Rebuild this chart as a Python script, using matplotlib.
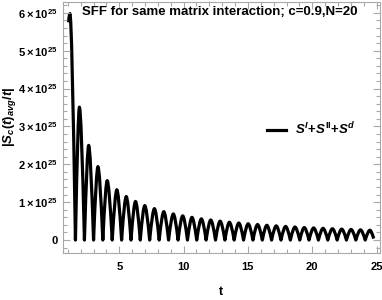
import matplotlib
matplotlib.use('Agg')
import matplotlib.pyplot as plt
from matplotlib.path import Path
from matplotlib.patches import PathPatch
from matplotlib.lines import Line2D
from matplotlib.ticker import MultipleLocator, FuncFormatter

plt.rcParams['font.family'] = ['Liberation Sans', 'DejaVu Sans']
plt.rcParams['mathtext.fontset'] = 'custom'
plt.rcParams['mathtext.rm'] = 'Liberation Sans:bold'
plt.rcParams['mathtext.it'] = 'Liberation Sans:italic:bold'
plt.rcParams['mathtext.bf'] = 'Liberation Sans:bold'

# ---- data (values in units of 1e25) ----
SCALE = 1e25
start_t, start_v = 1.05, 5.75
peak_t = [1.16, 1.90, 2.62, 3.34, 4.06, 4.81, 5.54, 6.26, 6.98, 7.73, 8.46,
          9.20, 9.93, 10.65, 11.38, 12.11, 12.84, 13.56, 14.29, 15.02, 15.75,
          16.47, 17.20, 17.93, 18.66, 19.38, 20.11, 20.84, 21.57, 22.29,
          23.02, 23.75, 24.48]
peak_v = [5.98, 3.51, 2.50, 1.94, 1.57, 1.33, 1.15, 1.02, 0.91, 0.83, 0.75,
          0.69, 0.64, 0.60, 0.56, 0.53, 0.50, 0.47, 0.45, 0.43, 0.41,
          0.39, 0.375, 0.36, 0.345, 0.33, 0.32, 0.31, 0.30, 0.29,
          0.28, 0.27, 0.26]
trough_t = [1.59, 2.29, 3.00, 3.72, 4.45, 5.18, 5.91, 6.63, 7.36, 8.10, 8.83,
            9.57, 10.30, 11.02, 11.75, 12.48, 13.21, 13.93, 14.66, 15.39,
            16.12, 16.84, 17.57, 18.30, 19.03, 19.75, 20.48, 21.21, 21.94,
            22.66, 23.39, 24.12]
trough_v = [0.0] * 32
end_t, end_v = 24.78, 0.04

xticks = [5, 10, 15, 20, 25]
yticks = [0, 1, 2, 3, 4, 5, 6]
title = "SFF for same matrix interaction; c=0.9,N=20"
legend_label = r'$S^{I}\mathrm{+}S^{\mathrm{II}}\mathrm{+}S^{d}$'

# ---- figure ----
fig = plt.figure(figsize=(3.82, 3.0), dpi=100)
ax = fig.add_axes([62.7/382, 1-253.3/300, (379.5-62.7)/382, (253.3-1.5)/300])

alpha = 0.637
verts = [(start_t, start_v*SCALE)]
codes = [Path.MOVETO]
verts += [(start_t + 0.6*(peak_t[0]-start_t), peak_v[0]*SCALE), (peak_t[0], peak_v[0]*SCALE)]
codes += [Path.CURVE3, Path.CURVE3]
for k in range(len(peak_t)):
    tp, hp = peak_t[k], peak_v[k]*SCALE
    if k < len(trough_t):
        tt, ht = trough_t[k], trough_v[k]*SCALE
    else:
        tt, ht = end_t, end_v*SCALE
    verts += [(tt - alpha*(tt-tp), hp), (tt, ht)]
    codes += [Path.CURVE3, Path.CURVE3]
    if k + 1 < len(peak_t):
        tp1, hp1 = peak_t[k+1], peak_v[k+1]*SCALE
        verts += [(tt + alpha*(tp1-tt), hp1), (tp1, hp1)]
        codes += [Path.CURVE3, Path.CURVE3]
patch = PathPatch(Path(verts, codes), fill=False, edgecolor='black', lw=2.3,
                  joinstyle='round', capstyle='butt')
ax.add_patch(patch)

ax.set_xlim(0.6, 25.23)
ax.set_ylim(-0.35*SCALE, 6.30*SCALE)

frame_c = '#a8a8a8'
for s in ax.spines.values():
    s.set_color(frame_c)
    s.set_linewidth(0.8)

ax.xaxis.set_major_locator(MultipleLocator(5))
ax.xaxis.set_minor_locator(MultipleLocator(1))
ax.yaxis.set_major_locator(MultipleLocator(1*SCALE))
ax.yaxis.set_minor_locator(MultipleLocator(0.2*SCALE))
ax.set_xticks(xticks)
ax.set_yticks([v*SCALE for v in yticks])

def yfmt(v, pos):
    n = int(round(v/SCALE))
    if n == 0:
        return '0'
    return r'$%d\times10^{25}$' % n
ax.yaxis.set_major_formatter(FuncFormatter(yfmt))

ax.tick_params(which='both', direction='in', top=True, right=True, color=frame_c,
               width=0.8, labelsize=8, labelcolor='black')
ax.tick_params(which='major', length=5)
ax.tick_params(which='minor', length=3)
ax.tick_params(axis='x', pad=6)
ax.tick_params(axis='y', pad=3.5)
for lab in ax.get_xticklabels() + ax.get_yticklabels():
    lab.set_fontweight('bold')

fig.text(220/382, 1-12/300, title, ha='center', va='center', fontsize=9.5, fontweight='bold')
fig.text(221/382, 1-292/300, 't', ha='center', va='center', fontsize=9, fontweight='bold')
fig.text(1.5/382, 1-117/300, r'$|S_c(t)_{avg}/t|$', ha='left', va='center',
         rotation=90, fontsize=9.5)

handle = Line2D([], [], color='black', lw=2.3)
fig.legend([handle], [legend_label], loc='center left',
           bbox_to_anchor=(267/382, 1-129/300), bbox_transform=fig.transFigure,
           frameon=False, borderpad=0, borderaxespad=0, handlelength=1.45,
           handletextpad=0.65, fontsize=9.5)

fig.savefig('out.png', dpi=100)
